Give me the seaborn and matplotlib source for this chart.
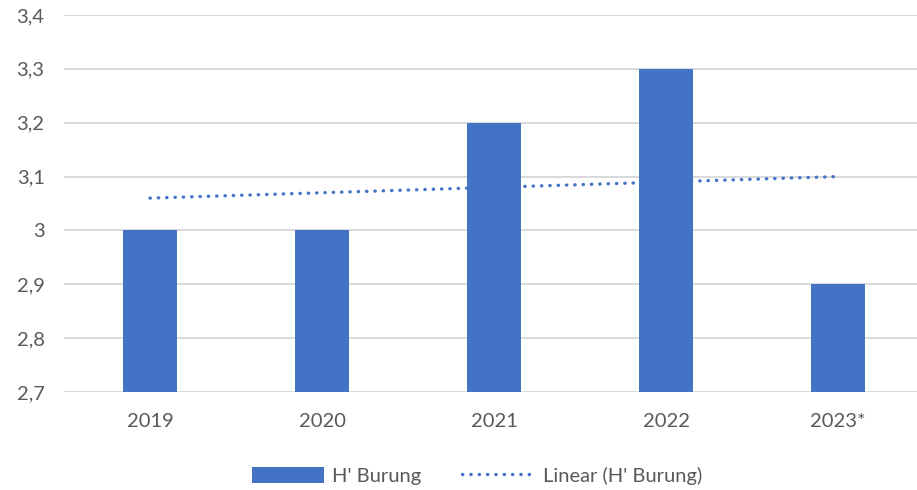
import matplotlib
matplotlib.use("Agg")
import matplotlib.pyplot as plt
import numpy as np
import pandas as pd
import seaborn as sns
from matplotlib.ticker import FixedLocator, FixedFormatter

# data
years = ['2019', '2020', '2021', '2022', '2023*']
h_burung = [3.0, 3.0, 3.2, 3.3, 2.9]
y_ticks = [2.7, 2.8, 2.9, 3.0, 3.1, 3.2, 3.3, 3.4]
y_labels = ['2,7', '2,8', '2,9', '3', '3,1', '3,2', '3,3', '3,4']

bar_color = '#4472C4'
text_color = '#595959'
grid_color = '#D9D9D9'

sns.set_style("white")
plt.rcParams['font.family'] = ['Lato', 'DejaVu Sans']

df = pd.DataFrame({'year': years, 'value': h_burung, 'pos': np.arange(len(years))})

fig = plt.figure(figsize=(9.17, 4.9), dpi=100)
ax = fig.add_axes([64 / 917, 0.2, 860 / 917, 0.7694])

sns.barplot(data=df, x='year', y='value', color=bar_color, saturation=1,
            width=0.31, ax=ax, label="H' Burung", linewidth=0, zorder=3)

# Excel-style linear trendline
sns.regplot(data=df, x='pos', y='value', scatter=False, ci=None, truncate=True,
            ax=ax, label="Linear (H' Burung)",
            line_kws=dict(color=bar_color, lw=2.4, linestyle=(0, (0.1, 2.4)),
                          dash_capstyle='round', zorder=4))

if ax.get_legend() is not None:
    ax.get_legend().remove()

ax.set_xlim(-0.5, len(years) - 0.5)
ax.set_ylim(2.7, 3.4)
ax.yaxis.set_major_locator(FixedLocator(y_ticks))
ax.yaxis.set_major_formatter(FixedFormatter(y_labels))
ax.grid(axis='y', color=grid_color, lw=1.4, zorder=0)
ax.set_axisbelow(True)
ax.set_xlabel('')
ax.set_ylabel('')
for s in ax.spines.values():
    s.set_visible(False)
ax.tick_params(axis='both', length=0, labelsize=14.5, colors=text_color)
ax.tick_params(axis='y', pad=14)
ax.tick_params(axis='x', pad=15)

handles, labels = ax.get_legend_handles_labels()
order = [labels.index("H' Burung"), labels.index("Linear (H' Burung)")]
fig.legend([handles[i] for i in order], [labels[i] for i in order],
           loc='center', bbox_to_anchor=(0.52, 0.029),
           ncol=2, frameon=False, fontsize=14.5, labelcolor=text_color,
           handlelength=3.6, handleheight=0.8, columnspacing=2.0, handletextpad=0.4)

fig.savefig('out.png', dpi=100)
